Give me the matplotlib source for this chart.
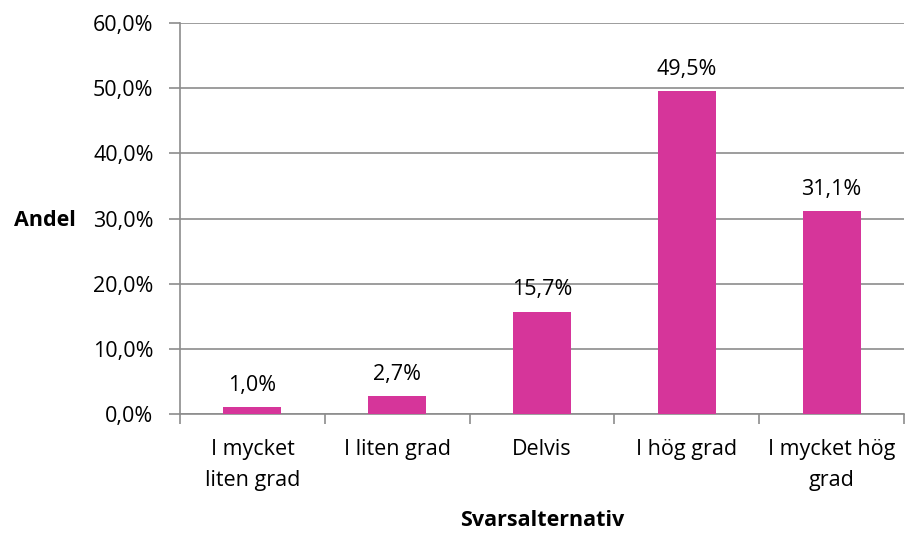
import matplotlib
matplotlib.use("Agg")
import matplotlib.pyplot as plt
from matplotlib.ticker import FuncFormatter

categories = ["I mycket\nliten grad", "I liten grad", "Delvis", "I hög grad", "I mycket hög\ngrad"]
values = [1.0, 2.7, 15.7, 49.5, 31.1]
labels = ["1,0%", "2,7%", "15,7%", "49,5%", "31,1%"]

plt.rcParams['font.family'] = ['Open Sans', 'DejaVu Sans']
fs = 15.5
fig = plt.figure(figsize=(9.05, 5.34), dpi=100)
ax = fig.add_axes([180/905, 1-414/534, (904-180)/905, (414-23)/534])

color = "#D6359A"
grid = "#8C8C8C"
x = list(range(len(values)))
ax.bar(x, values, width=0.4, color=color, zorder=3)
for xi, v, lab in zip(x, values, labels):
    ax.text(xi, v + 1.8, lab, ha="center", va="bottom", fontsize=fs)

ax.set_xlim(-0.5, len(values) - 0.5)
ax.set_ylim(0, 60)
ax.set_yticks(range(0, 61, 10))
ax.yaxis.set_major_formatter(FuncFormatter(lambda v, p: f"{v:.1f}".replace(".", ",") + "%"))
ax.grid(axis="y", color=grid, linewidth=1.2, zorder=0)
ax.set_xticks([i + 0.5 for i in range(-1, len(values))], minor=False)
ax.set_xticklabels([])
ax.set_xticks(x, minor=True)
ax.set_xticklabels(categories, minor=True, fontsize=fs, linespacing=1.65)
ax.tick_params(axis="x", which="minor", length=0, pad=18)
ax.tick_params(axis="x", which="major", length=7, color=grid, width=1.2)
ax.tick_params(axis="y", length=8, color=grid, width=1.2, labelsize=fs, pad=11)
for s in ["top", "right"]:
    ax.spines[s].set_visible(False)
for s in ["left", "bottom"]:
    ax.spines[s].set_color(grid)
    ax.spines[s].set_linewidth(1.2)

fig.text(76/905, 1-221/534, "Andel", ha="right", va="center", fontsize=fs, fontweight="bold")
fig.text(542/905, 1-521/534, "Svarsalternativ", ha="center", va="center", fontsize=fs, fontweight="bold")

fig.savefig("out.png", dpi=100)
